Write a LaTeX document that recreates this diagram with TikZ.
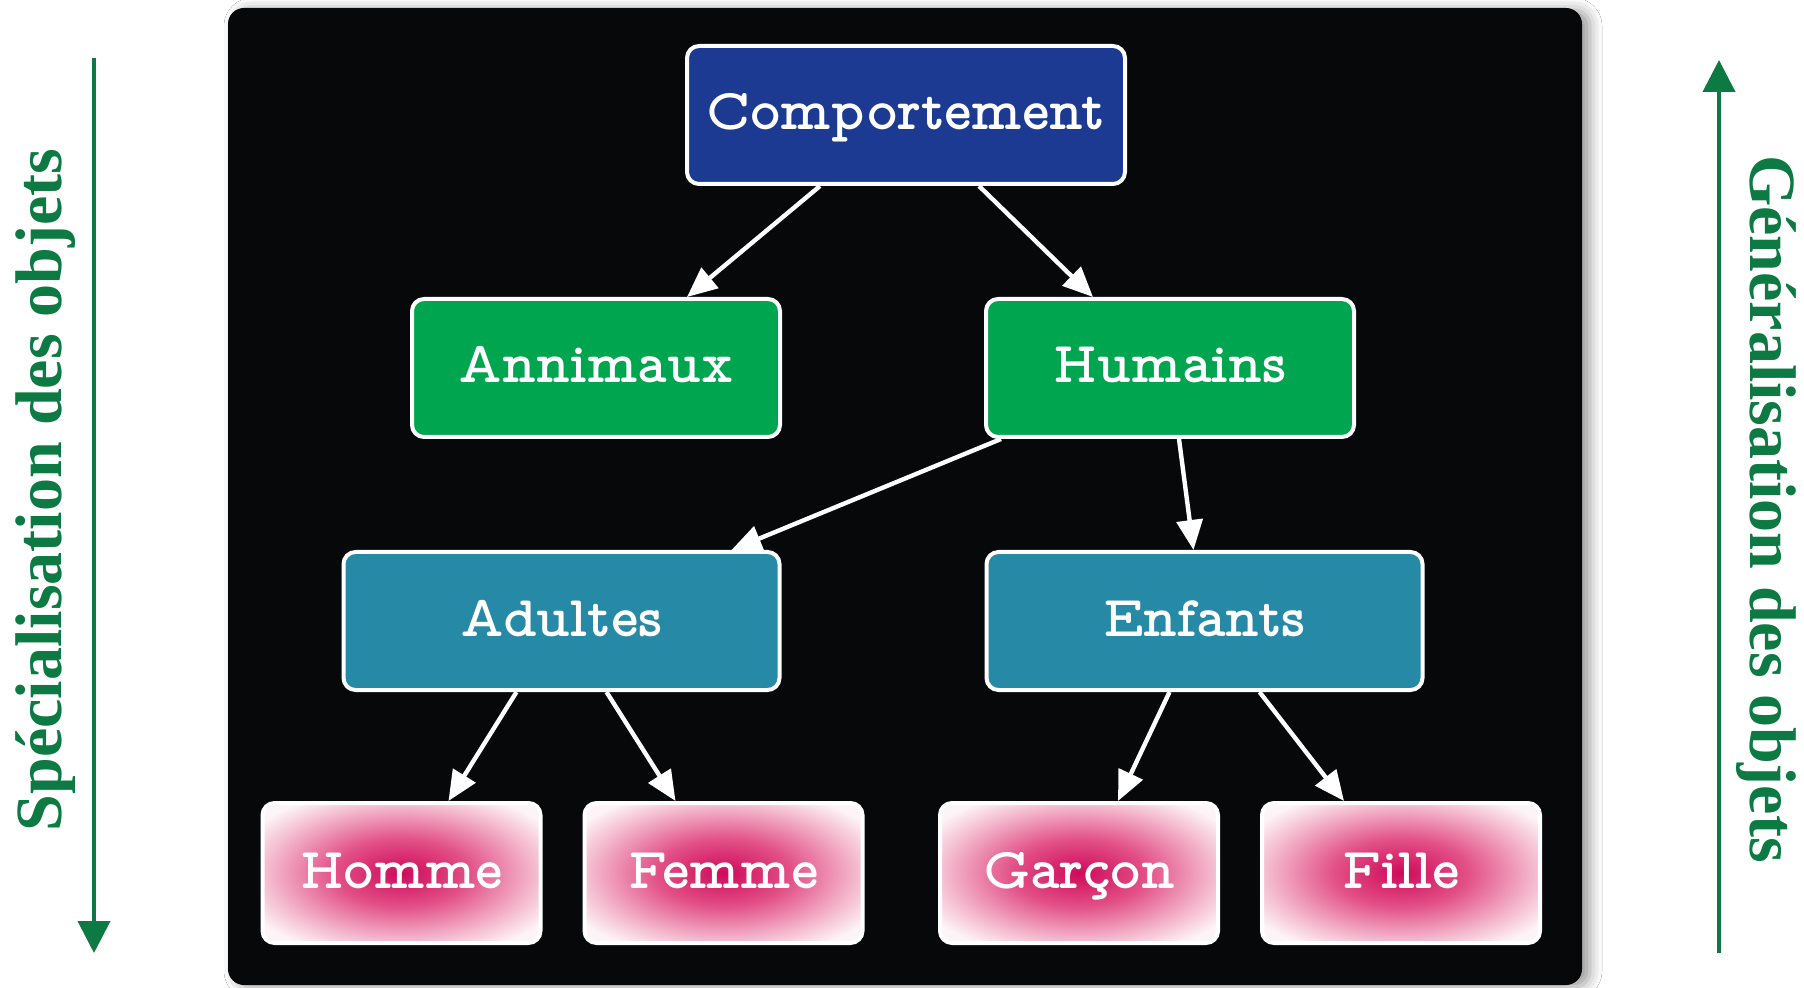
\documentclass[tikz,border=0pt]{standalone}
\usepackage{fontspec}
\setmainfont{Liberation Serif}
\newfontfamily\typefont{lmmonoproplt10-bold.otf}
\usetikzlibrary{arrows.meta,shadows.blur}

\definecolor{panelblack}{RGB}{6,8,10}
\definecolor{compblue}{RGB}{28,58,146}
\definecolor{catgreen}{RGB}{0,165,80}
\definecolor{ageteal}{RGB}{38,137,166}
\definecolor{sidegreen}{RGB}{12,122,66}
\definecolor{rosecentre}{RGB}{206,10,90}
\definecolor{rosemid}{RGB}{226,80,134}
\definecolor{roseedge}{RGB}{244,186,206}
\definecolor{rosecorner}{RGB}{253,244,247}

\pgfdeclareradialshading{rosebox}{\pgfpoint{0bp}{0bp}}{%
  color(0bp)=(rosecentre); color(12bp)=(rosemid); color(24bp)=(roseedge);
  color(31bp)=(rosecorner); color(50bp)=(rosecorner)}

\begin{document}
\begin{tikzpicture}
            [x=0.5pt, y=-0.5pt,
             box/.style={draw=white, line width=2pt, rounded corners=6pt,
                         minimum height=69pt, inner sep=0pt, text=white,
                         text height=20pt, text depth=5pt,
                         font=\typefont\fontsize{29}{35}\selectfont},
             rootbox/.style={box, fill=compblue, minimum width=219pt},
             kindbox/.style={box, fill=catgreen, minimum width=184pt},
             agebox/.style={box, fill=ageteal, minimum width=218pt},
             leafbox/.style={box, shading=rosebox, minimum width=139pt, minimum height=70pt},
             link/.style={draw=white, line width=2.2pt, -{Triangle[width=13pt,length=15pt]}},
             sidearrow/.style={draw=sidegreen, line width=2pt, -{Triangle[width=16pt,length=16pt]}},
             sidetext/.style={text=sidegreen, font=\bfseries\fontsize{33}{40}\selectfont}]
            \useasboundingbox[fill=white] (0,0) rectangle (1804,988);

            % Draw the black panel
            \fill[panelblack, rounded corners=8pt,
                  blur shadow={shadow xshift=4pt, shadow yshift=-1pt, shadow blur radius=6pt}]
                (228,8) rectangle (1582,985);

            % Place the boxes
            \node[rootbox] (comp) at (906,115) {Comportement};  % Top box
            \node[kindbox] (anim) at (596,368) {Annimaux};
            \node[kindbox] (hum)  at (1170,368) {Humains};
            \node[agebox]  (adu)  at (561.5,621) {Adultes};
            \node[agebox]  (enf)  at (1204.5,621) {Enfants};
            \node[leafbox] (hom)  at (401.5,873) {Homme};   % Bottom row
            \node[leafbox] (fem)  at (723.5,873) {Femme};
            \node[leafbox] (gar)  at (1079,873) {Garçon};
            \node[leafbox] (fil)  at (1401,873) {Fille};

            % Draw the links
            \draw[link] ([xshift=-43pt]comp.south) -- ([xshift=45.5pt]anim.north);
            \draw[link] ([xshift=36.5pt]comp.south) -- ([xshift=-38.5pt]hum.north);
            \draw[link] ([xshift=-84.5pt]hum.south) -- ([xshift=85pt]adu.north);
            \draw[link] ([xshift=4.5pt]hum.south) -- ([xshift=-5.5pt]enf.north);
            \draw[link] ([xshift=-22.5pt]adu.south) -- ([xshift=23.5pt]hom.north);
            \draw[link] ([xshift=22.5pt]adu.south) -- ([xshift=-24pt]fem.north);
            \draw[link] ([xshift=-17.5pt]enf.south) -- ([xshift=19.5pt]gar.north);
            \draw[link] ([xshift=27.5pt]enf.south) -- ([xshift=-28.5pt]fil.north);

            % Side arrows and their texts
            \coordinate (spectop) at (94,58);
            \coordinate (specbot) at (94,953);
            \coordinate (genbot) at (1719,953);
            \coordinate (gentop) at (1719,60);
            \draw[sidearrow] (spectop) -- (specbot);
            \draw[sidearrow] (genbot) -- (gentop);
            \node[sidetext, rotate=90] (spec) at (46,490) {Spécialisation des objets};
            \node[sidetext, rotate=-90] (gen) at (1766,509) {Généralisation des objets};
        \end{tikzpicture}
\end{document}
